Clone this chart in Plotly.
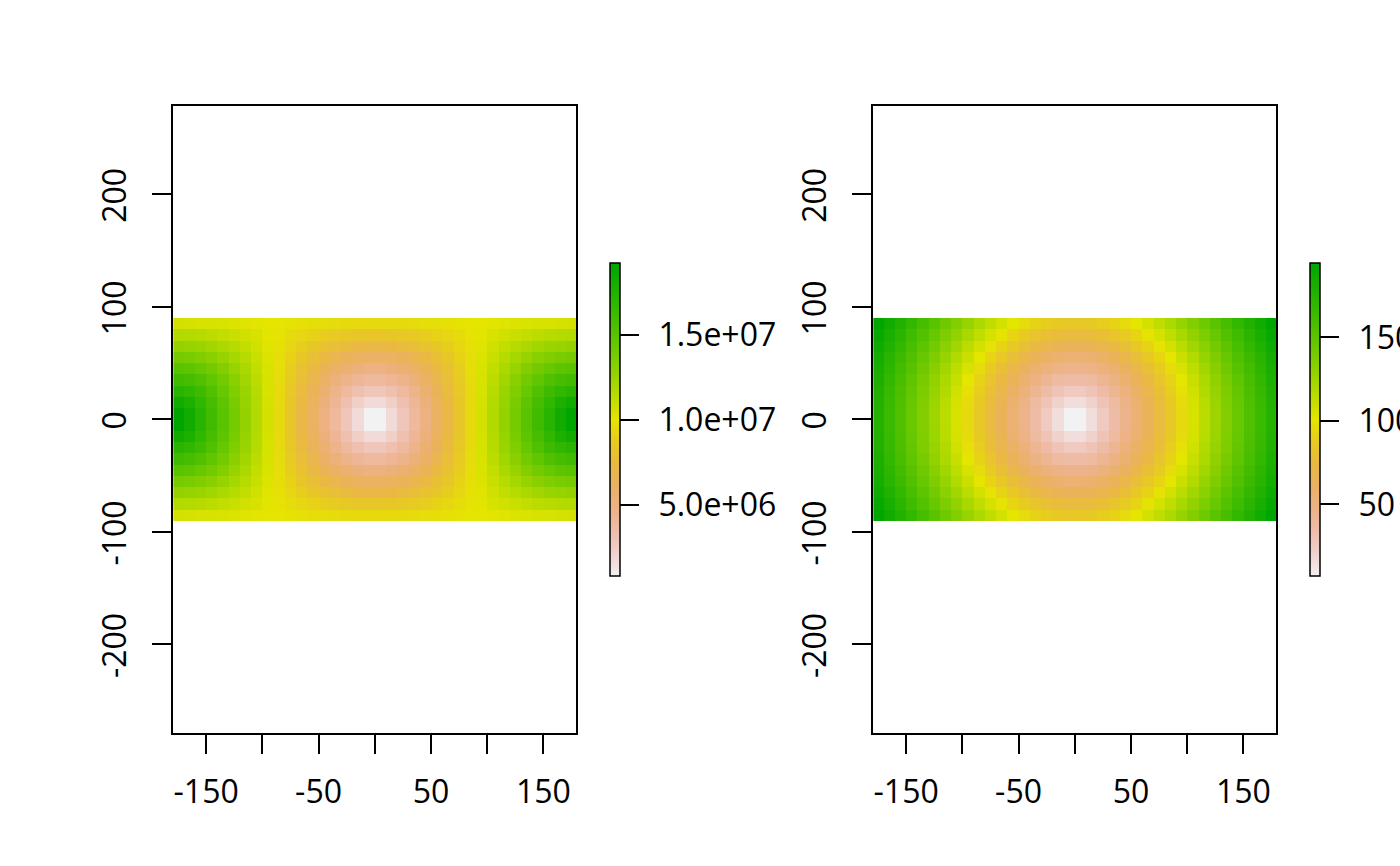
import colorsys

import plotly.graph_objects as go
from plotly.subplots import make_subplots

# Cell centres of the grid (10 degree cells)
lons = list(range(-175, 180, 10))
lats = list(range(-85, 90, 10))

# Upper right quarter of each raster.
# Rows are lat 5..85, columns lon 5..175; the picture is mirrored about both axes.
left_quarter = [
    [0.79, 1.76, 2.83, 3.93, 5.03, 6.14, 7.25, 8.36, 9.46, 10.57, 11.68, 12.79, 13.90, 15.00, 16.11, 17.20, 18.28, 19.25],
    [1.76, 2.35, 3.22, 4.20, 5.22, 6.27, 7.34, 8.41, 9.48, 10.56, 11.63, 12.70, 13.76, 14.81, 15.84, 16.82, 17.69, 18.28],
    [2.83, 3.22, 3.87, 4.68, 5.58, 6.53, 7.51, 8.51, 9.51, 10.52, 11.53, 12.53, 13.51, 14.45, 15.35, 16.17, 16.82, 17.20],
    [3.93, 4.20, 4.68, 5.33, 6.08, 6.90, 7.76, 8.66, 9.56, 10.47, 11.38, 12.27, 13.14, 13.96, 14.71, 15.35, 15.84, 16.11],
    [5.03, 5.22, 5.58, 6.08, 6.68, 7.35, 8.08, 8.84, 9.63, 10.41, 11.19, 11.95, 12.68, 13.36, 13.96, 14.45, 14.81, 15.00],
    [6.14, 6.27, 6.53, 6.90, 7.35, 7.88, 8.46, 9.07, 9.70, 10.34, 10.97, 11.58, 12.16, 12.68, 13.14, 13.51, 13.76, 13.90],
    [7.25, 7.34, 7.51, 7.76, 8.08, 8.46, 8.87, 9.32, 9.78, 10.25, 10.72, 11.16, 11.58, 11.95, 12.27, 12.53, 12.70, 12.79],
    [8.36, 8.41, 8.51, 8.66, 8.84, 9.07, 9.32, 9.59, 9.88, 10.16, 10.45, 10.72, 10.97, 11.19, 11.38, 11.53, 11.63, 11.68],
    [9.46, 9.48, 9.51, 9.56, 9.63, 9.70, 9.78, 9.88, 9.97, 10.07, 10.16, 10.25, 10.34, 10.41, 10.47, 10.52, 10.56, 10.57],
]
right_quarter = [
    [7.07, 15.8, 25.5, 35.4, 45.3, 55.2, 65.2, 75.2, 85.1, 95.1, 105.1, 115.1, 125.1, 135.1, 145.1, 155.1, 165.1, 175.1],
    [15.8, 21.2, 29.2, 38.1, 47.4, 57.0, 66.7, 76.5, 86.3, 96.2, 106.1, 116.0, 125.9, 135.8, 145.8, 155.7, 165.7, 175.6],
    [25.5, 29.2, 35.4, 43.0, 51.5, 60.4, 69.6, 79.1, 88.6, 98.2, 107.9, 117.7, 127.5, 137.3, 147.1, 157.0, 166.9, 176.8],
    [35.4, 38.1, 43.0, 49.5, 57.0, 65.2, 73.8, 82.7, 91.9, 101.2, 110.7, 120.2, 129.8, 139.5, 149.2, 158.9, 168.7, 178.5],
    [45.3, 47.4, 51.5, 57.0, 63.6, 71.1, 79.1, 87.5, 96.2, 105.1, 114.2, 123.5, 132.9, 142.3, 151.8, 161.4, 171.0, 180.7],
    [55.2, 57.0, 60.4, 65.2, 71.1, 77.8, 85.1, 93.0, 101.2, 109.8, 118.5, 127.5, 136.6, 145.8, 155.1, 164.5, 173.9, 183.4],
    [65.2, 66.7, 69.6, 73.8, 79.1, 85.1, 91.9, 99.2, 107.0, 115.1, 123.5, 132.1, 140.9, 149.8, 158.9, 168.1, 177.3, 186.7],
    [75.2, 76.5, 79.1, 82.7, 87.5, 93.0, 99.2, 106.1, 113.4, 121.0, 129.0, 137.3, 145.8, 154.4, 163.2, 172.2, 181.2, 190.4],
    [85.1, 86.3, 88.6, 91.9, 96.2, 101.2, 107.0, 113.4, 120.2, 127.5, 135.1, 143.0, 151.2, 159.5, 168.1, 176.8, 185.6, 194.55],
]

xticks = [-150, -100, -50, 0, 50, 100, 150]
xlabels = ["-150", "", "-50", "", "50", "", "150"]
yticks = [-200, -100, 0, 100, 200]
ylabels = ["-200", "-100", "0", "100", "200"]

left_bar_ticks = [5, 10, 15]
left_bar_labels = ["5.0e+06", "1.0e+07", "1.5e+07"]
right_bar_ticks = [50, 100, 150]
right_bar_labels = ["50", "100", "150"]

W = 1400
H = 866
FONT = "Open Sans"
FONT_SIZE = 32
LINE = 1.7
# colorbar has no label standoff
BAR_PAD = "\u00a0<span style='font-size:17px'>\u00a0</span>"


def mirror(quarter):
    rows = [row[::-1] + row for row in quarter]
    return rows[::-1] + rows


def terrain_scale(n=40):
    # rev(terrain.colors()) from R, as plotly colorscale stops
    stops = []
    for i in range(n + 1):
        t = i / n
        if t < 0.5:
            u = t / 0.5
            h, s, v = u * 2 / 12, u, 0.95 - 0.05 * u
        else:
            u = (t - 0.5) / 0.5
            h, s, v = (2 + 2 * u) / 12, 1.0, 0.9 - 0.25 * u
        r, g, b = colorsys.hsv_to_rgb(h, s, v)
        stops.append([t, f"rgb({r * 255:.0f},{g * 255:.0f},{b * 255:.0f})"])
    return stops


fig = make_subplots(rows=1, cols=2)

panels = [
    (left_quarter, left_bar_ticks, left_bar_labels, 173.35, 610, "x", "y"),
    (right_quarter, right_bar_ticks, right_bar_labels, 873.35, 1310, "x2", "y2"),
]
for quarter, bar_ticks, bar_labels, x0, bar_x, xname, yname in panels:
    fig.add_trace(go.Heatmap(
        x=lons, y=lats, z=mirror(quarter),
        colorscale=terrain_scale(),
        xaxis=xname, yaxis=yname,
        colorbar=dict(
            x=bar_x / W, xanchor="left", xpad=0,
            y=1 - 419.5 / H, yanchor="middle", ypad=0,
            thickness=9.5, thicknessmode="pixels",
            len=313, lenmode="pixels",
            outlinecolor="black", outlinewidth=1.5,
            tickmode="array", tickvals=bar_ticks,
            ticktext=[BAR_PAD + label for label in bar_labels],
            ticks="outside", ticklen=19, tickwidth=LINE, tickcolor="black",
            tickfont=dict(family=FONT, size=FONT_SIZE, color="black"),
        ),
    ))

    axis_style = dict(
        showgrid=False, zeroline=False, showline=True, mirror=True,
        linecolor="black", linewidth=LINE,
        ticks="outside", ticklen=20, tickwidth=LINE, tickcolor="black",
        tickfont=dict(family=FONT, size=FONT_SIZE, color="black"),
        tickmode="array",
    )
    xkey = xname.replace("x", "xaxis")
    ykey = yname.replace("y", "yaxis")
    fig.update_layout({
        xkey: dict(axis_style, domain=[x0 / W, (x0 + 402.8) / W], range=[-179.2, 179.2],
                   tickvals=xticks, ticktext=xlabels, tickangle=0, ticklabelstandoff=10),
        ykey: dict(axis_style, domain=[1 - 732.5 / H, 1 - 106 / H], range=[-278.4, 278.4],
                   tickvals=yticks, ticktext=ylabels, tickangle=-90,
                   ticklabelstandoff=13, ticklabelshift=6),
    })

fig.update_layout(
    width=W, height=H,
    margin=dict(l=0, r=0, t=0, b=0, autoexpand=False),
    paper_bgcolor="white", plot_bgcolor="white",
    showlegend=False,
)
# the page's default body margin would push the figure 8px in
fig.write_html(
    "out.html",
    config={"displayModeBar": False},
    post_script="document.body.style.margin='0';document.body.style.overflow='hidden';",
)
